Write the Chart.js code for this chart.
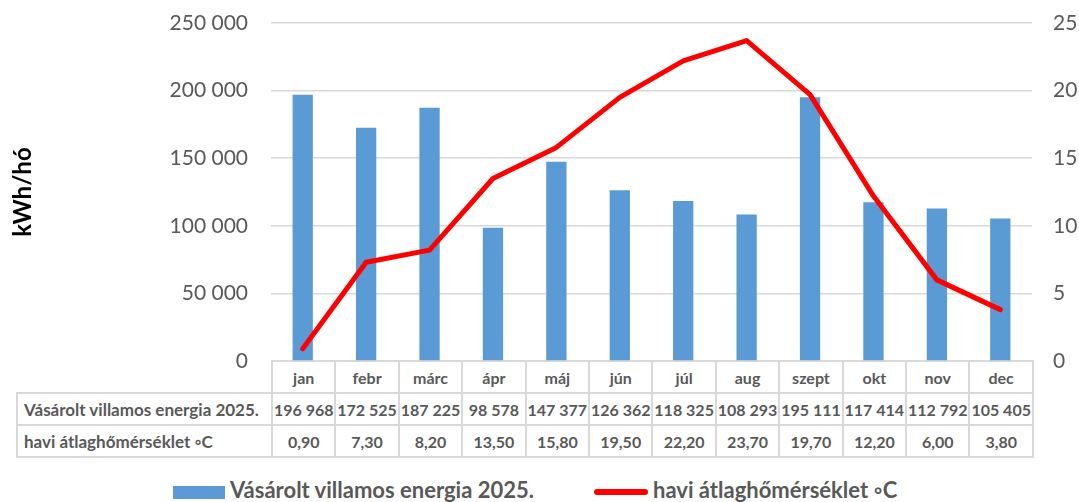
<!DOCTYPE html>
<html>
<head>
<meta charset="utf-8">
<script src="https://cdn.jsdelivr.net/npm/chart.js@4"></script>
<style>
  body { margin: 0; background: #fff; }
  #wrap { position: relative; width: 1079px; height: 502px; overflow: hidden; font-family: Lato, sans-serif; }
  #chartBox { position: absolute; left: 0; top: 0; width: 1079px; height: 380px; z-index: 2; }
  #dataTable { position: absolute; border-collapse: collapse; table-layout: fixed; z-index: 1;
    font: bold 16px Lato, sans-serif; color: #595959; }
  #dataTable td { border: 2px solid #d9d9d9; height: 30px; padding: 0; text-align: center; white-space: nowrap; overflow: hidden; }
  #dataTable td.lbl { text-align: left; padding-left: 6px; font-size: 17px; }
  #dataTable td.blank { border: none; }
  .legend { position: absolute; font: bold 22px Lato, sans-serif; line-height: 22px; color: #595959; white-space: nowrap; }
</style>
</head>
<body>
<div id="wrap">
  <div id="chartBox"><canvas id="energyChart"></canvas></div>
  <table id="dataTable"></table>
  <div class="legend" style="left:173px;top:486px;width:52px;height:13px;background:#5b9bd5"></div>
  <div class="legend" style="left:230px;top:479px;">Vásárolt villamos energia 2025.</div>
  <div class="legend" style="left:594px;top:489px;width:54px;height:6px;border-radius:3px;background:#ff0000"></div>
  <div class="legend" style="left:653px;top:479px;">havi átlaghőmérséklet ◦C</div>
</div>
<script>
const months = ["jan", "febr", "márc", "ápr", "máj", "jún", "júl", "aug", "szept", "okt", "nov", "dec"];
const energy = [196968, 172525, 187225, 98578, 147377, 126362, 118325, 108293, 195111, 117414, 112792, 105405];
const temps = [0.9, 7.3, 8.2, 13.5, 15.8, 19.5, 22.2, 23.7, 19.7, 12.2, 6.0, 3.8];
const energyLabel = "Vásárolt villamos energia 2025.";
const tempLabel = "havi átlaghőmérséklet ◦C";

function fmtThousands(v) {
    return String(v).replace(/\B(?=(\d{3})+(?!\d))/g, " ");
}

const tickColor = "#595959";
const gridColor = "#d9d9d9";
const clear = "rgba(0,0,0,0)";

const chart = new Chart(document.getElementById("energyChart"), {
    type: "bar",
    data: {
        labels: months,
        datasets: [{
            type: "line",
            label: tempLabel,
            data: temps,
            yAxisID: "y1",
            borderColor: "#ff0000",
            borderWidth: 5,
            borderCapStyle: "round",
            borderJoinStyle: "round",
            pointRadius: 0,
            tension: 0,
            order: 0
        }, {
            label: energyLabel,
            data: energy,
            yAxisID: "y",
            backgroundColor: "#5b9bd5",
            barPercentage: 0.32,
            categoryPercentage: 1,
            order: 1
        }]
    },
    options: {
        responsive: true,
        maintainAspectRatio: false,
        animation: false,
        layout: { padding: { top: 23, bottom: 19, left: 0, right: 0 } },
        plugins: { legend: { display: false }, tooltip: { enabled: false } },
        scales: {
            x: { display: false },
            y: {
                position: "left",
                min: 0, max: 250000,
                ticks: { stepSize: 50000, color: tickColor, padding: 2,
                    font: { family: "Lato", size: 21 },
                    callback: v => fmtThousands(v) },
                grid: { color: gridColor, lineWidth: 1.5, tickLength: 21, tickColor: clear },
                border: { display: false },
                title: { display: true, text: "kWh/hó", color: "#000",
                    font: { family: "Lato", size: 24, weight: "bold" },
                    padding: { top: 9, bottom: 0 } },
                afterFit: s => { s.width = 271; }
            },
            y1: {
                position: "right",
                min: 0, max: 25,
                ticks: { stepSize: 5, color: tickColor, padding: 2,
                    font: { family: "Lato", size: 21 } },
                grid: { color: clear, drawOnChartArea: false, tickLength: 19, tickColor: clear },
                border: { display: false },
                afterFit: s => { s.width = 47; }
            }
        }
    }
});

// data table under the plot, columns lined up with the categories
function buildTable() {
    const area = chart.chartArea;
    const colW = (area.right - area.left) / months.length;
    const tableLeft = 16;
    const tbl = document.getElementById("dataTable");
    tbl.style.left = tableLeft + "px";
    tbl.style.top = (area.bottom - 1) + "px";
    tbl.style.width = (area.right - tableLeft) + "px";

    let html = "<colgroup><col style='width:" + (area.left - tableLeft) + "px'>";
    months.forEach(() => { html += "<col style='width:" + colW + "px'>"; });
    html += "</colgroup>";
    html += "<tr><td class='blank'></td>" + months.map(m => "<td>" + m + "</td>").join("") + "</tr>";
    html += "<tr><td class='lbl'>" + energyLabel + "</td>" + energy.map(v => "<td>" + fmtThousands(v) + "</td>").join("") + "</tr>";
    html += "<tr><td class='lbl'>" + tempLabel + "</td>" + temps.map(v => "<td>" + v.toFixed(2).replace(".", ",") + "</td>").join("") + "</tr>";
    tbl.innerHTML = html;
}
buildTable();
</script>
</body>
</html>
